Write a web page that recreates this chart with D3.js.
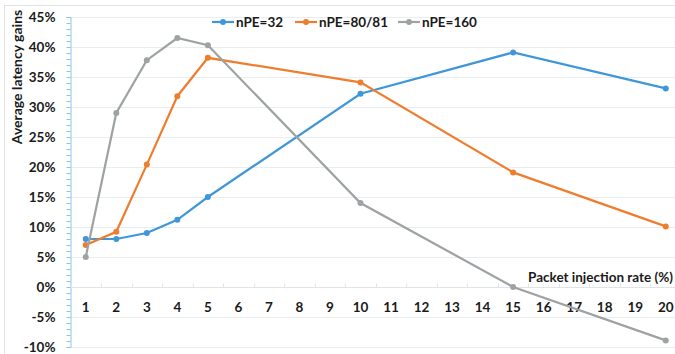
<!DOCTYPE html>
<html>
<head>
<meta charset="utf-8">
<script src="https://cdn.jsdelivr.net/npm/d3@7"></script>
<style>
  body { margin: 0; background: #fff; }
  text { font-family: Lato, "Open Sans", sans-serif; font-weight: bold; fill: #1a1a1a; }
</style>
</head>
<body>
<svg id="chart" width="675" height="354"></svg>
<script>
// data
const rates = [1, 2, 3, 4, 5, 6, 7, 8, 9, 10, 11, 12, 13, 14, 15, 16, 17, 18, 19, 20]
const measured = [1, 2, 3, 4, 5, 10, 15, 20]
const npe32 = [8, 8, 9, 11.2, 15, 32.2, 39.1, 33.1]
const npe80 = [7, 9.2, 20.4, 31.8, 38.2, 34.1, 19.1, 10.1]
const npe160 = [5, 29, 37.8, 41.5, 40.3, 14, 0, -8.9]
const yTicks = [-10, -5, 0, 5, 10, 15, 20, 25, 30, 35, 40, 45]

const seriesNames = ["nPE=32", "nPE=80/81", "nPE=160"]
const seriesVals = [npe32, npe80, npe160]
const colors = ["#3f97d9", "#ef7d2e", "#9ea2a2"]

let svg = d3.select("#chart")

// outer frame
svg.append("rect").attr("x", 4.5).attr("y", 5.5).attr("width", 680).attr("height", 360)
    .attr("fill", "none").attr("stroke", "#dfe3e8")

const x = d3.scaleBand().domain(rates).range([70.5, 681])
const y = d3.scaleLinear().domain([-10, 45]).range([347, 17])

// gridlines
svg.append("g").selectAll("line").data(yTicks.filter(d => d != 0)).join("line")
    .attr("x1", 71).attr("x2", 681)
    .attr("y1", d => Math.round(y(d)) + 0.5).attr("y2", d => Math.round(y(d)) + 0.5)
    .attr("stroke", "#e9edf2")

// y axis with minor ticks
let yAxis = svg.append("g").attr("transform", "translate(70.5,0)")
yAxis.call(d3.axisLeft(y).tickValues(d3.range(-10, 46, 1)).tickSize(4).tickFormat(""))
yAxis.selectAll("path, line").attr("stroke", "#8cc4ee")
yAxis.append("g").call(d3.axisLeft(y).tickValues(yTicks).tickSize(0).tickPadding(15).tickFormat(d => d + "%"))
    .call(g => g.select(".domain").remove())
    .selectAll("text").attr("font-size", 13.5).attr("fill", "#1a1a1a")
    .style("font-family", "Lato, 'Open Sans', sans-serif").style("font-weight", "bold")

// x axis at zero
let xAxis = svg.append("g").attr("transform", "translate(0," + (Math.round(y(0)) + 0.5) + ")")
xAxis.append("line").attr("x1", 71).attr("x2", 681).attr("stroke", "#dfe4ea")
xAxis.selectAll(".tk").data(rates).join("line").attr("class", "tk")
    .attr("x1", d => Math.round(x(d)) + 0.5).attr("x2", d => Math.round(x(d)) + 0.5)
    .attr("y1", 0).attr("y2", -4).attr("stroke", "#dfe4ea")
xAxis.selectAll("text").data(rates).join("text")
    .attr("x", d => x(d) + x.bandwidth() / 2).attr("y", 24)
    .attr("text-anchor", "middle").attr("font-size", 13.5).text(d => d)

// titles
svg.append("text").attr("transform", "translate(22,77) rotate(-90)")
    .attr("text-anchor", "middle").attr("font-size", 14).text("Average latency gains")
svg.append("text").attr("x", 673).attr("y", 282).attr("text-anchor", "end")
    .attr("font-size", 13.5).text("Packet injection rate (%)")

// lines
const line = d3.line().x((d, i) => x(measured[i]) + x.bandwidth() / 2).y(d => y(d))
seriesVals.forEach((vals, k) => {
    svg.append("path").attr("d", line(vals)).attr("fill", "none")
        .attr("stroke", colors[k]).attr("stroke-width", 2.2)
    svg.append("g").selectAll("circle").data(vals).join("circle")
        .attr("cx", (d, i) => x(measured[i]) + x.bandwidth() / 2).attr("cy", d => y(d))
        .attr("r", 3).attr("fill", colors[k])
})

// legend
const legendX = [212, 295, 398]
let legend = svg.append("g")
seriesNames.forEach((name, k) => {
    let g = legend.append("g").attr("transform", "translate(" + legendX[k] + ",22)")
    g.append("line").attr("x1", 0).attr("x2", 22).attr("stroke", colors[k]).attr("stroke-width", 2.2)
    g.append("circle").attr("cx", 11).attr("r", 3).attr("fill", colors[k])
    g.append("text").attr("x", 24).attr("y", 4.5).attr("font-size", 13.5).text(name)
})
</script>
</body>
</html>
